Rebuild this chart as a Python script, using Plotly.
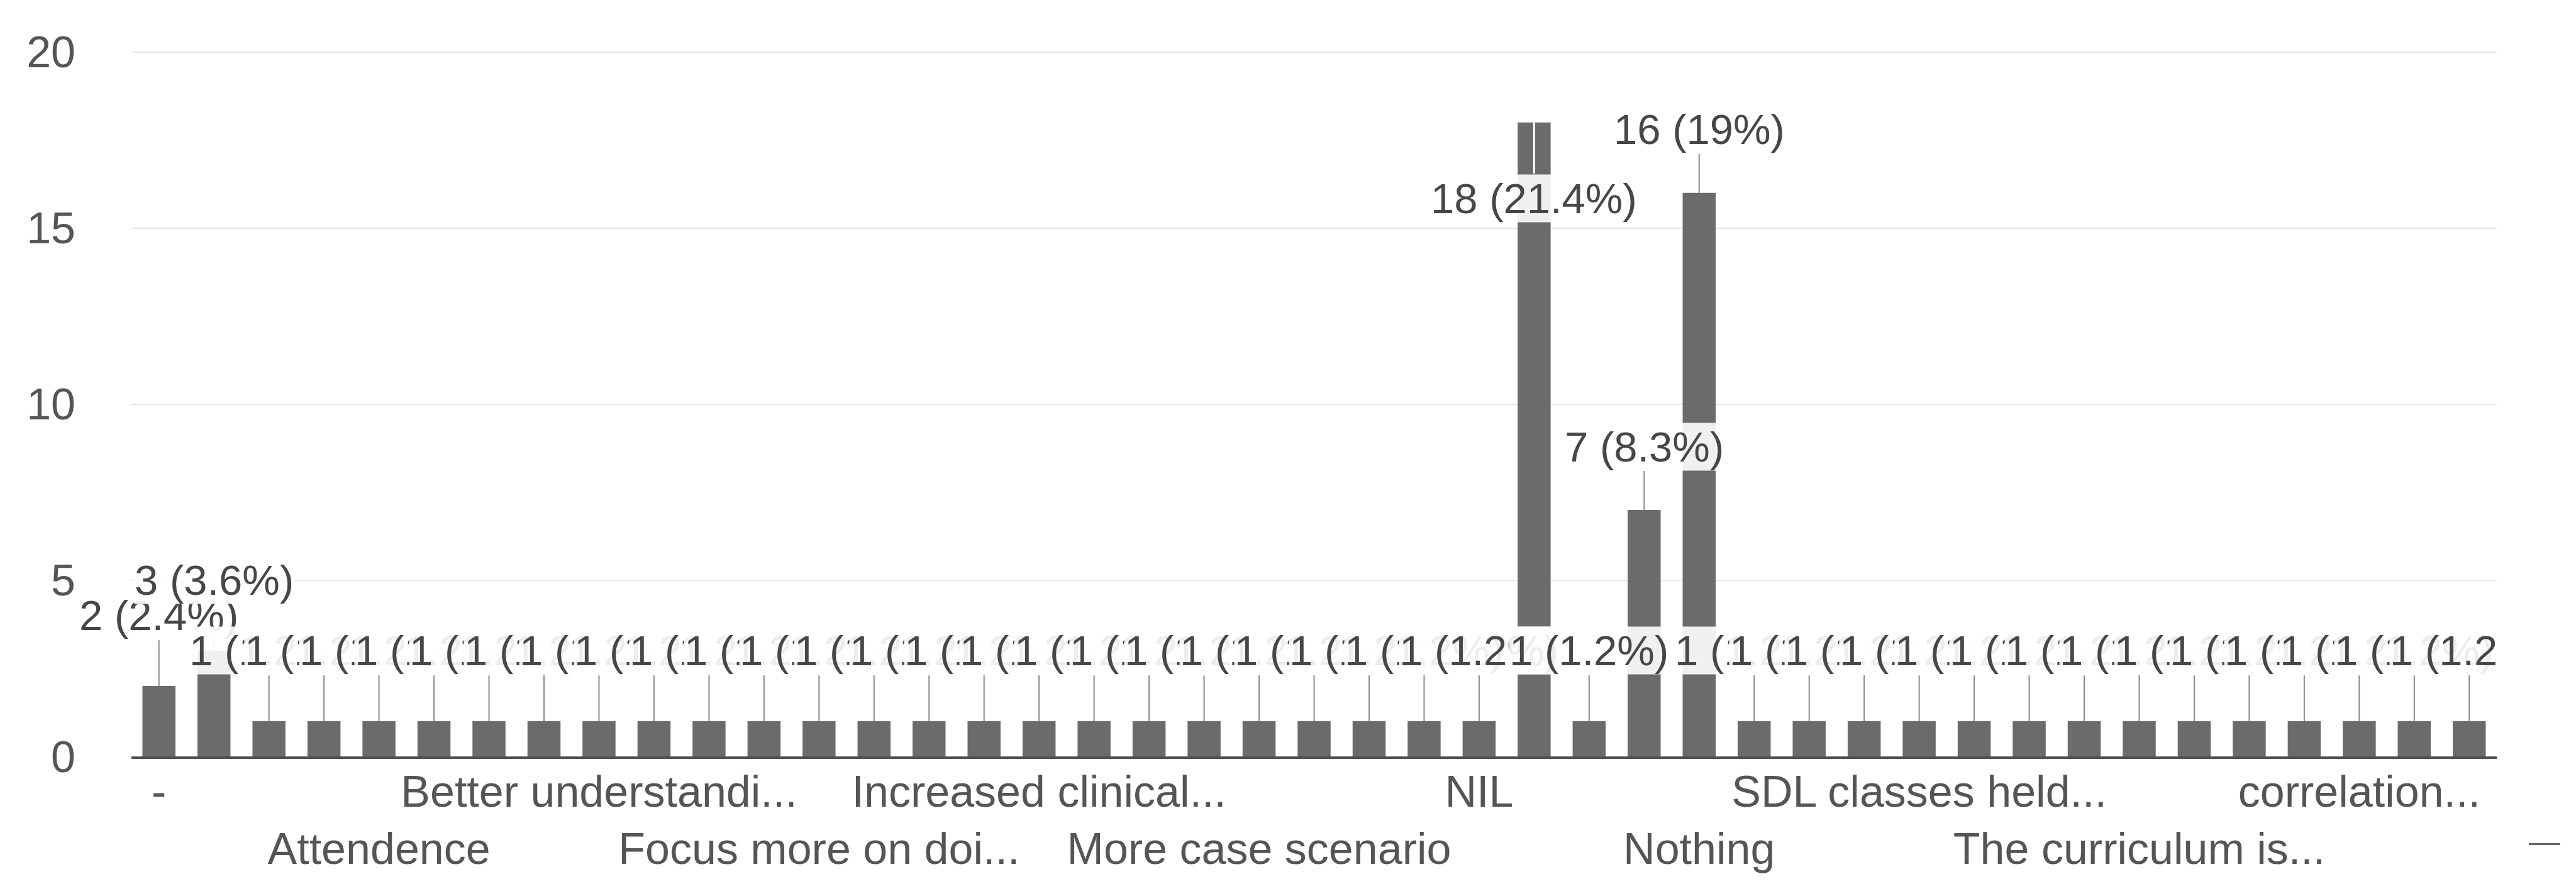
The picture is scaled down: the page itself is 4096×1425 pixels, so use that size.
import plotly.graph_objects as go

# ---- data ----
counts = [2, 3, 1, 1, 1, 1, 1, 1, 1, 1, 1, 1, 1, 1, 1, 1, 1, 1, 1, 1, 1, 1, 1, 1, 1,
          18, 1, 7, 16, 1, 1, 1, 1, 1, 1, 1, 1, 1, 1, 1, 1, 1, 1]
tick_index = [0, 4, 8, 12, 16, 20, 24, 28, 32, 36, 40]
tick_labels = ["-", "Attendence", "Better understandi...", "Focus more on doi...",
               "Increased clinical...", "More case scenario", "NIL", "Nothing",
               "SDL classes held...", "The curriculum is...", "correlation..."]
y_ticks = [0, 5, 10, 15, 20]

total = sum(counts)
xs = list(range(len(counts)))

FONT = "Liberation Sans, Arial, sans-serif"
BAR = "#6b6b6b"
TXT = "#474747"

fig = go.Figure()
fig.add_trace(go.Bar(x=xs, y=counts, width=0.6,
                     marker=dict(color=BAR, line=dict(width=0)),
                     hoverinfo="skip"))

# labels + leader lines
lx, ly, wx, wy = [], [], [], []
annotations = []
half_h = 0.7
for i, v in enumerate(counts):
    pct = round(v / total * 100, 1)
    txt = f"{v} ({pct:g}%)"
    pos = v + (2.0 if v <= 3 else 1.8)
    inside = pos > 19.5
    if inside:
        pos = v - 2.15
        wx += [i, i, None]
        wy += [v, pos + half_h, None]
    else:
        lx += [i, i, None]
        ly += [v, pos - half_h, None]
    annotations.append(dict(x=i, y=pos, xref="x", yref="y", text=txt, showarrow=False,
                            font=dict(family=FONT, size=67, color=TXT),
                            bgcolor="rgba(255,255,255,0.9)", borderpad=0,
                            xanchor="center", yanchor="middle"))

fig.add_trace(go.Scatter(x=lx, y=ly, mode="lines", line=dict(color="#8a8a8a", width=2),
                         hoverinfo="skip", cliponaxis=False))
fig.add_trace(go.Scatter(x=wx, y=wy, mode="lines", line=dict(color="white", width=3),
                         hoverinfo="skip"))

# clip labels at the right edge of the plot area
annotations.append(dict(x=1.0, y=3.0, xref="paper", yref="y", text=" ", showarrow=False,
                        width=134, height=100, bgcolor="white", xanchor="left",
                        yanchor="middle", borderpad=0))
# stray dash at lower right
annotations.append(dict(x=1.0202, y=-0.12, xref="paper", yref="paper", text="—",
                        showarrow=False, font=dict(family=FONT, size=50, color="#666666"),
                        xanchor="center", yanchor="middle"))

tt = []
for k, lab in enumerate(tick_labels):
    tt.append(lab if k % 2 == 0 else " <br>" + lab)

fig.update_layout(
    width=4096, height=1425,
    margin=dict(l=201, r=134, t=73, b=230),
    paper_bgcolor="white", plot_bgcolor="white",
    showlegend=False, bargap=0.4,
    font=dict(family=FONT, color="#555555"),
    annotations=annotations,
    xaxis=dict(range=[-0.5, len(counts) - 0.5], tickmode="array", tickvals=tick_index,
               ticktext=tt, showgrid=False, zeroline=False, showline=True,
               linecolor="#505050", linewidth=4, ticks="", ticklabelstandoff=-8,
               tickfont=dict(family=FONT, size=70, color="#555555"), tickangle=0),
    yaxis=dict(range=[0, 20.03], tickmode="array", tickvals=y_ticks, showgrid=True,
               gridcolor="#e6e6e6", gridwidth=2, zeroline=False, showline=False,
               ticks="", ticklabelstandoff=88,
               tickfont=dict(family=FONT, size=70, color="#555555")),
)

fig.write_html("out.html")
